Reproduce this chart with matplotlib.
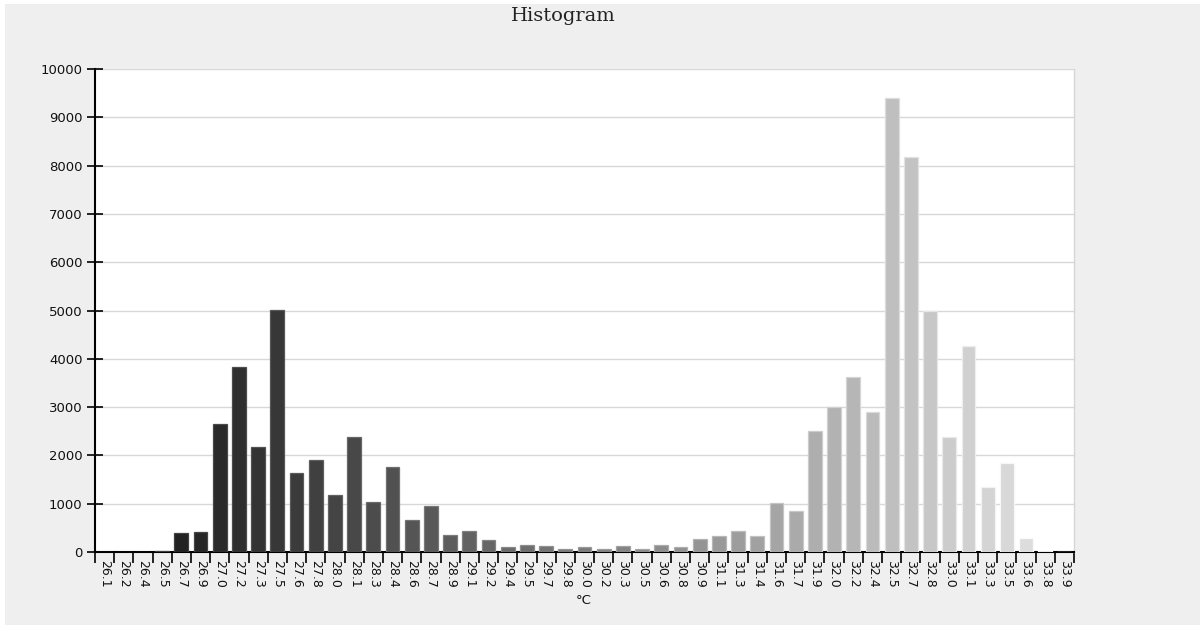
import matplotlib
matplotlib.use("Agg")
import matplotlib.pyplot as plt
from matplotlib.patches import Rectangle
import numpy as np

# Temperature bins (°C) and counts per bin
bin_labels = ["26.1", "26.2", "26.4", "26.5", "26.7", "26.9", "27.0", "27.2", "27.3", "27.5",
              "27.6", "27.8", "28.0", "28.1", "28.3", "28.4", "28.6", "28.7", "28.9", "29.1",
              "29.2", "29.4", "29.5", "29.7", "29.8", "30.0", "30.2", "30.3", "30.5", "30.6",
              "30.8", "30.9", "31.1", "31.3", "31.4", "31.6", "31.7", "31.9", "32.0", "32.2",
              "32.4", "32.5", "32.7", "32.8", "33.0", "33.1", "33.3", "33.5", "33.6", "33.8",
              "33.9"]
counts = [10, 0, 0, 15, 403, 424, 2649, 3820, 2183, 5015,
          1632, 1906, 1172, 2385, 1040, 1767, 665, 950, 362, 445,
          250, 98, 146, 125, 56, 98, 56, 125, 53, 146,
          98, 270, 340, 445, 340, 1019, 840, 2505, 3008, 3625,
          2896, 9407, 8172, 5000, 2390, 4270, 1354, 1833, 300, 40,
          0]
y_ticks = [0, 1000, 2000, 3000, 4000, 5000, 6000, 7000, 8000, 9000, 10000]

W, H = 1200, 625
fig = plt.figure(figsize=(W / 100, H / 100), dpi=100, facecolor="white")
fig.patches.append(Rectangle((5 / W, 0), 1, 1 - 4 / H, transform=fig.transFigure,
                             facecolor="#efefef", edgecolor="none", zorder=-10))

ax = fig.add_axes([95 / W, (H - 552) / H, (1074 - 95) / W, (552 - 69) / H])
ax.set_facecolor("white")

n = len(counts)
x = np.arange(n) + 0.5
# dark-to-light grey ramp across the bins
levels = np.linspace(17, 229, n) / 255.0
face = [(v, v, v) for v in levels]
edge = [(min(1, v + 0.12),) * 3 for v in levels]
ax.bar(x, counts, width=0.72, color=face, edgecolor=edge, linewidth=0.9, zorder=3)

ax.set_xlim(0, n)
ax.set_ylim(0, 10000)
ax.set_yticks(y_ticks)
ax.set_yticklabels([str(v) for v in y_ticks])
ax.set_xticks(np.arange(n + 1))
ax.set_xticklabels([])
ax.set_xticks(x, minor=True)
ax.set_xticklabels(bin_labels, minor=True, rotation=-90, fontsize=9, color="#111111")
ax.tick_params(axis="x", which="minor", length=0, pad=6)
ax.tick_params(axis="x", which="major", direction="out", length=8, width=1.2, color="black")
ax.tick_params(axis="y", direction="inout", length=12, width=1.2, color="black",
               labelsize=9.5, pad=3, labelcolor="#111111")

ax.grid(axis="y", color="#d8d8d8", linewidth=1.0, zorder=0)
ax.set_axisbelow(True)
for side in ("left", "bottom"):
    ax.spines[side].set_color("black")
    ax.spines[side].set_linewidth(1.5)
ax.spines["top"].set_visible(False)
ax.spines["right"].set_color("#d6d6d6")
ax.spines["right"].set_linewidth(1.0)

fig.text(584 / W, 1 - 600 / H, "°C", ha="center", va="center", fontsize=9.5, color="#111111")
fig.text(563 / W, 1 - 16 / H, "Histogram", ha="center", va="center",
         fontsize=14, family="DejaVu Serif", color="#222222")

fig.savefig("out.png", dpi=100, facecolor=fig.get_facecolor())
